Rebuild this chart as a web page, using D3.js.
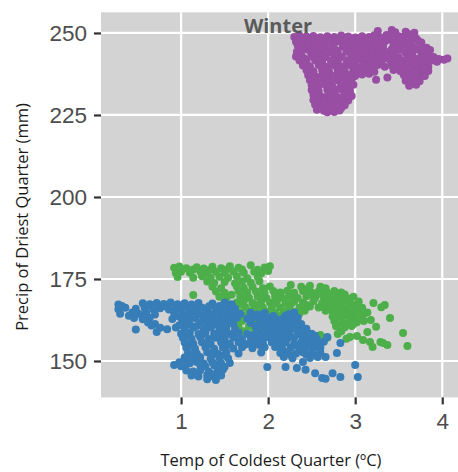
<!DOCTYPE html>
<html><head><meta charset="utf-8">
<script src="https://cdn.jsdelivr.net/npm/d3@7"></script>
<style>body{margin:0;background:#fff}</style></head>
<body>
<svg id="c" width="458" height="472"></svg>
<script>
const title = "Winter";
const xLabel = "Temp of Coldest Quarter (ºC)";
const yLabel = "Precip of Driest Quarter (mm)";
const xTicks = [1, 2, 3, 4];
const yTicks = [150, 175, 200, 225, 250];
const seriesColors = ["#377EB8", "#4DAF4A", "#984EA3"];

const purplePoints = [
[3.26,250.6],[3.42,250.9],[3.46,250.2],[3.58,250.4],[3.68,250.1],
[2.30,248.8],[2.36,249.2],[2.44,248.9],[2.52,249.1],[2.60,248.7],[2.68,249.0],[2.76,248.8],[2.84,249.2],[2.92,248.9],[3.00,248.6],[3.08,249.0],[3.16,248.8],[3.22,249.3],[3.36,249.4],[3.50,249.0],[3.62,249.6],
[2.32,247.3],[2.40,247.8],[2.50,247.4],[2.56,247.6],[2.64,247.2],[2.72,247.7],[2.80,247.4],[2.88,247.6],[2.96,247.3],[3.04,247.8],[3.12,247.5],[3.20,247.2],[3.28,247.7],[3.34,247.4],[3.40,247.9],[3.48,247.5],[3.56,247.8],[3.64,247.4],[3.72,247.7],[3.76,247.1],
[2.34,246.2],[2.42,245.8],[2.58,246.1],[2.66,245.7],[2.74,246.3],[2.86,245.9],[2.94,246.2],[3.02,245.8],[3.10,246.1],[3.18,245.7],[3.26,246.3],[3.32,245.9],[3.44,246.2],[3.52,245.8],[3.60,246.1],[3.68,245.6],[3.76,246.0],[3.82,245.5],
[2.33,244.3],[2.40,244.8],[2.48,244.4],[2.62,244.7],[2.70,244.2],[2.80,244.6],[2.90,244.3],[3.00,244.8],[3.08,244.4],[3.16,244.7],[3.24,244.3],[3.30,244.6],[3.38,244.2],[3.46,244.7],[3.52,244.9],[3.66,244.4],[3.74,244.7],[3.82,244.3],[3.86,244.8],
[2.32,242.8],[2.38,243.3],[2.50,242.9],[2.58,243.2],[2.66,242.7],[2.76,243.1],[2.84,242.8],[2.96,243.2],[3.04,242.9],[3.12,243.3],[3.20,242.7],[3.28,243.1],[3.36,242.8],[3.44,243.2],[3.50,242.6],[3.66,243.0],[3.76,242.8],[3.84,243.2],[3.90,242.7],
[3.96,242.1],[4.02,241.8],[4.06,242.2],
[2.36,241.6],[2.44,241.3],[2.54,241.7],[2.62,241.2],[2.72,241.6],[2.80,241.3],[2.90,241.7],[2.98,241.4],[3.06,241.8],[3.14,241.3],[3.22,241.6],[3.30,241.2],[3.40,241.7],[3.48,241.3],[3.56,241.6],[3.62,241.2],[3.70,241.7],[3.80,241.3],[3.88,241.6],
[2.40,240.1],[2.48,239.8],[2.58,240.2],[2.68,239.7],[2.76,240.1],[2.86,239.8],[2.94,240.2],[3.02,239.7],[3.10,240.1],[3.18,239.6],[3.26,240.2],[3.34,239.7],[3.42,240.1],[3.52,239.8],[3.60,240.2],[3.66,239.6],[3.74,240.0],[3.84,239.7],
[2.44,238.6],[2.52,238.3],[2.62,238.7],[2.70,238.2],[2.80,238.6],[2.88,238.3],[2.98,238.7],[3.06,238.4],[3.14,238.6],[3.22,238.2],[3.44,238.7],[3.52,238.3],[3.60,238.6],[3.68,238.2],[3.76,238.6],[3.84,238.4],
[2.46,237.1],[2.54,236.8],[2.62,237.2],[2.70,236.7],[2.78,237.1],[2.86,236.8],[2.94,237.2],[3.00,236.9],[3.08,237.3],[3.16,237.6],[3.56,237.1],[3.64,236.8],[3.72,237.2],[3.80,236.9],
[3.24,235.7],[3.37,236.4],
[2.48,235.6],[2.56,235.3],[2.64,235.7],[2.72,235.2],[2.80,235.6],[2.88,235.3],[2.96,235.7],[3.58,235.4],[3.66,235.7],[3.74,235.3],
[2.50,234.1],[2.58,233.8],[2.66,234.2],[2.74,233.7],[2.84,234.1],[2.92,233.8],[2.98,234.2],[3.62,233.9],[3.70,234.2],
[2.50,232.6],[2.58,232.3],[2.68,232.7],[2.76,232.2],[2.86,232.6],[2.94,232.3],
[2.52,231.1],[2.60,230.8],[2.70,231.2],[2.78,230.7],[2.88,231.1],[2.96,230.8],
[2.52,229.6],[2.60,229.3],[2.68,229.7],[2.76,229.2],[2.84,229.6],[2.92,229.4],
[2.54,228.1],[2.62,227.8],[2.70,228.2],[2.80,227.7],[2.88,228.0],
[2.56,226.6],[2.64,226.3],[2.72,226.7],[2.82,226.4],
[2.68,225.8],[2.76,225.9],
[3.44,249.6],[3.56,248.9],[3.30,248.6],[3.70,248.3],[3.58,244.0],[3.46,240.9],[3.78,240.7],[3.94,241.2],[3.70,235.1],[3.06,239.0],
[2.46,246.6],[2.52,245.4],[2.56,243.9],[2.94,235.0],[2.66,230.4],[2.82,233.0],[2.74,227.0],
[2.40,248.2],[2.56,248.3],[2.72,248.1],[2.88,248.2],[3.04,248.3],[3.20,248.1],[3.52,248.2],[3.66,248.4],
[2.38,245.1],[2.54,245.3],[2.76,245.2],[2.98,245.1],[3.14,245.3],[3.28,245.2],[3.42,245.0],[3.62,245.3],[3.78,245.1],
[2.42,242.2],[2.62,242.3],[2.80,242.1],[3.00,242.3],[3.16,242.2],[3.32,242.1],[3.46,242.3],[3.60,242.4],[3.72,242.1],[3.86,242.3],
[2.46,239.2],[2.64,239.3],[2.82,239.1],[2.98,239.3],[3.14,239.2],[3.48,239.1],[3.64,239.3],[3.80,239.2],
[2.52,236.2],[2.68,236.3],[2.84,236.1],[2.92,236.3],[3.62,236.2],[3.70,236.4],
[2.54,233.2],[2.72,233.3],[2.90,233.1],
[2.56,230.2],[2.72,230.1],[2.82,230.3],
[2.60,227.2],[2.76,227.3],[2.84,227.1]
];

const greenPoints = [
[0.92,178.4],[0.98,178.8],[1.06,178.3],[1.18,178.6],[1.26,178.2],[1.36,178.7],[1.46,178.3],[1.56,178.9],[1.66,178.4],[1.80,179.2],[1.96,178.5],[2.02,178.9],
[0.94,176.8],[1.00,177.2],[1.10,176.9],[1.22,177.3],[1.30,176.7],[1.40,177.1],[1.50,176.8],[1.60,177.3],[1.72,176.9],[1.84,177.2],[1.92,176.7],[2.00,177.4],
[0.96,175.6],[1.14,175.4],[1.24,175.8],[1.34,175.3],[1.44,175.7],[1.54,175.4],[1.64,175.8],[1.76,175.2],[1.88,175.6],
[1.30,174.2],[1.38,173.8],[1.50,174.1],[1.62,173.7],[1.70,174.2],[1.80,173.9],[1.90,174.3],
[1.36,172.6],[1.46,172.2],[1.64,172.7],[1.72,172.3],[1.82,172.6],[1.94,172.2],[2.02,172.7],[2.26,173.2],[2.38,172.6],[2.48,172.9],[2.60,172.6],[2.66,172.2],
[1.40,171.2],[1.50,170.8],[1.66,171.3],[1.76,170.9],[1.86,171.2],[1.96,170.8],[2.06,171.3],[2.14,170.9],[2.22,171.4],[2.30,170.8],[2.40,171.3],[2.50,170.9],[2.58,171.2],[2.68,170.8],[2.76,171.3],[2.84,170.9],
[1.14,170.1],
[1.44,169.6],[1.52,169.2],[1.68,169.7],[1.78,169.3],[1.88,169.6],[1.98,169.2],[2.08,169.7],[2.16,169.3],[2.24,169.6],[2.34,169.2],[2.44,169.7],[2.54,169.3],[2.64,169.6],[2.72,169.2],[2.80,169.7],[2.90,169.3],[2.98,169.6],
[1.50,168.1],[1.64,167.8],[1.72,168.2],[1.82,167.7],[1.92,168.1],[2.02,167.8],[2.10,168.2],[2.20,167.7],[2.30,168.1],[2.40,167.8],[2.52,168.2],[2.62,167.7],[2.70,168.1],[2.78,167.8],[2.86,168.2],[2.94,167.7],[3.04,168.1],[3.21,167.7],[3.34,167.1],
[1.62,166.6],[1.74,166.3],[1.84,166.7],[1.94,166.2],[2.04,166.6],[2.14,166.3],[2.24,166.7],[2.36,166.2],[2.48,166.6],[2.58,166.3],[2.68,166.7],[2.76,166.2],[2.84,166.6],[2.92,166.3],[3.00,166.7],[3.08,166.2],[3.30,166.4],
[1.58,165.1],[1.68,164.8],[1.78,165.2],[1.88,164.7],[1.98,165.1],[2.08,164.8],[2.18,165.2],[2.30,164.9],[2.42,165.3],[2.74,165.1],[2.82,164.8],[2.90,165.2],[2.98,164.7],[3.06,165.1],[3.14,164.8],
[1.52,163.6],[1.62,163.3],[1.72,163.7],[1.82,163.2],[1.92,163.6],[2.02,163.3],[2.12,163.7],[2.22,163.4],[2.74,163.6],[2.84,163.3],[2.92,163.7],[3.00,163.2],[3.08,163.6],[3.40,163.1],
[1.46,162.1],[1.58,161.8],[1.70,162.2],[1.80,161.7],[1.90,162.1],[2.00,161.8],[2.76,162.2],[2.86,161.7],[2.94,162.1],[3.02,161.8],[3.10,162.2],[3.18,162.5],
[1.50,160.6],[1.66,160.3],[1.78,160.7],[1.92,160.2],[2.78,160.6],[2.88,160.3],[2.96,160.7],[3.24,160.4],
[1.72,159.1],[1.84,158.8],[1.96,159.2],[2.08,158.9],[2.84,159.1],[3.14,158.8],
[2.60,157.9],[2.80,158.2],[2.94,157.3],[3.02,157.6],[3.55,158.5],
[2.10,157.3],[2.68,157.1],[2.90,156.8],[3.09,156.4],
[3.17,155.8],[3.29,155.8],[3.37,154.9],[3.20,154.3],[3.32,155.5],
[3.60,154.6],
[2.44,171.9],[2.90,168.9],[2.36,164.5],[2.80,165.6],[2.66,165.3],
[0.96,177.8],[1.14,177.9],[1.32,177.7],[1.52,177.8],[1.70,177.9],[1.88,177.8],
[1.58,170.2],[1.72,170.1],[1.92,170.3],[2.10,170.2],[2.28,170.1],[2.48,170.3],[2.62,170.2],[2.74,170.1],[2.88,170.3],
[1.68,167.2],[1.88,167.1],[2.06,167.3],[2.26,167.2],[2.44,167.1],[2.64,167.3],[2.82,167.2],[2.98,167.1],
[1.64,164.2],[1.84,164.1],[2.04,164.3],[2.78,164.2],[2.96,164.1],[3.10,164.3],
[1.62,161.2],[1.86,161.1],[2.80,161.2],[2.98,161.3]
];

const bluePoints = [
[0.28,167.2],[0.56,167.6],[0.64,167.3],[0.72,167.7],[0.80,167.4],[0.88,167.8],[0.96,167.3],[1.04,167.6],[1.12,167.2],[1.20,167.7],[1.36,167.5],[1.50,167.8],[1.58,167.3],
[0.28,165.8],[0.36,166.2],[0.48,165.9],[0.58,166.3],[0.68,165.8],[0.76,166.1],[0.86,165.7],[0.94,166.2],[1.00,165.9],[1.08,166.3],[1.16,165.8],[1.24,166.2],[1.30,165.7],[1.40,166.1],[1.46,165.8],[1.54,166.2],[1.62,165.9],
[0.30,164.4],[0.44,164.8],[0.52,164.3],[0.60,164.7],[0.70,164.2],[0.92,164.6],[1.02,164.3],[1.10,164.7],[1.20,164.2],[1.28,164.6],[1.36,164.3],[1.44,164.7],[1.52,164.4],[1.60,164.8],[1.68,164.3],[1.80,164.7],[1.88,164.2],[1.96,164.6],[2.24,164.3],[2.30,164.8],
[0.46,163.1],[0.56,162.7],[0.64,163.2],[0.90,162.8],[1.00,163.2],[1.08,162.7],[1.16,163.1],[1.26,162.8],[1.34,163.2],[1.42,162.7],[1.50,163.1],[1.58,162.8],[1.64,163.2],[1.76,162.9],[1.86,163.3],[1.94,162.8],[2.02,163.2],[2.10,162.7],[2.18,163.1],[2.26,162.8],[2.34,163.2],
[0.62,161.7],[0.70,161.3],[1.02,161.6],[1.10,161.2],[1.22,161.7],[1.30,161.3],[1.38,161.6],[1.46,161.2],[1.54,161.7],[1.60,161.3],[1.80,161.6],[1.90,161.2],[1.98,161.7],[2.06,161.3],[2.14,161.6],[2.22,161.2],[2.30,161.7],[2.38,161.3],
[0.48,159.6],[0.76,160.1],[0.84,159.7],[0.94,160.2],[1.04,159.8],[1.14,160.1],[1.26,159.7],[1.34,160.2],[1.44,159.8],[1.52,160.1],[1.62,159.7],[1.86,160.2],[1.96,159.8],[2.04,160.1],[2.12,159.7],[2.20,160.2],[2.28,159.8],[2.36,160.3],[2.44,159.8],
[0.72,158.8],[1.00,158.3],[1.10,158.7],[1.20,158.2],[1.28,158.6],[1.38,158.3],[1.48,158.7],[1.56,158.2],[1.66,158.6],[1.76,158.3],[1.92,158.7],[2.00,158.2],[2.08,158.6],[2.16,158.3],[2.24,158.7],[2.34,158.2],[2.42,158.6],[2.50,158.3],
[1.02,157.1],[1.12,156.8],[1.22,157.2],[1.32,156.7],[1.40,157.1],[1.50,156.8],[1.60,157.2],[1.70,156.7],[1.80,157.1],[1.90,156.8],[1.98,157.2],[2.06,156.7],[2.14,157.1],[2.22,156.8],[2.30,157.2],[2.40,156.7],[2.48,157.1],[2.56,156.6],[2.68,157.3],
[1.04,155.6],[1.14,155.3],[1.24,155.7],[1.34,155.2],[1.46,155.6],[1.56,155.3],[1.66,155.7],[1.76,155.2],[1.84,155.6],[1.94,155.3],[2.04,155.7],[2.12,155.2],[2.20,155.6],[2.30,155.3],[2.38,155.7],[2.46,155.2],[2.54,155.6],[2.64,155.9],[2.83,155.5],
[1.06,154.1],[1.16,153.8],[1.28,154.2],[1.38,153.7],[1.48,154.1],[1.60,153.8],[1.70,154.2],[1.82,153.9],[1.96,154.2],[2.08,154.3],[2.16,153.8],[2.26,154.2],[2.36,153.7],[2.44,154.1],[2.52,153.8],[2.60,154.0],
[1.08,152.6],[1.18,152.3],[1.30,152.7],[1.42,152.2],[1.52,152.6],[1.66,152.3],[1.92,152.6],[2.14,152.4],[2.22,152.8],[2.32,152.3],[2.40,152.7],[2.50,152.2],[2.60,152.6],[2.79,152.4],
[1.04,151.1],[1.12,150.8],[1.22,151.2],[1.34,150.7],[1.44,151.1],[1.54,150.8],[2.18,151.2],[2.28,150.8],[2.48,150.9],[2.57,151.2],[2.66,151.2],
[0.98,149.6],[1.10,149.3],[1.18,149.7],[1.26,149.2],[1.36,149.6],[1.46,149.3],[1.56,149.4],[2.40,149.7],
[0.92,148.8],[1.00,148.4],[1.28,148.3],[1.38,148.7],[1.50,148.2],[1.99,148.2],[2.20,148.2],[2.33,147.9],[3.00,148.8],
[1.06,147.1],[1.14,146.8],[1.22,147.2],[1.32,146.7],[1.42,147.1],[1.48,147.3],[2.43,147.3],[2.54,146.3],[2.74,146.3],
[1.12,145.6],[1.20,145.3],[1.30,145.7],[1.38,145.2],[1.46,145.6],[2.62,144.8],[2.83,145.1],[3.03,145.1],
[1.30,144.4],[1.40,144.2],[2.66,144.6],
[0.32,166.8],[0.62,166.9],[0.82,166.7],[1.02,166.8],[1.18,166.9],[1.32,166.7],[1.44,166.8],[1.56,166.9],
[0.40,163.8],[0.58,163.9],[0.96,163.7],[1.14,163.8],[1.32,163.9],[1.48,163.7],[1.62,163.8],[1.82,163.9],[2.06,163.7],[2.20,163.8],
[0.66,160.8],[0.98,160.9],[1.18,160.7],[1.36,160.8],[1.50,160.9],[1.86,160.7],[2.02,160.8],[2.18,160.9],[2.34,160.7],
[1.06,157.8],[1.24,157.9],[1.44,157.7],[1.62,157.8],[1.84,157.9],[2.04,157.7],[2.20,157.8],[2.38,157.9],[2.54,157.7],
[1.10,154.8],[1.30,154.9],[1.52,154.7],[1.72,154.8],[1.90,154.9],[2.10,154.7],[2.30,154.8],[2.48,154.9],[2.58,154.7],
[1.14,151.8],[1.36,151.9],[1.48,151.7],[2.26,151.8],[2.44,151.9],[2.56,151.7],
[1.04,148.9],[1.22,148.8],[1.42,149.0],
[1.18,146.0],[1.34,146.1]
];

const W = 458, H = 472;
const svg = d3.select("#c");
const x = d3.scaleLinear().domain([0.08, 4.25]).range([101, 464]);
const y = d3.scaleLinear().domain([138.9, 256.3]).range([397.4, 12.3]);
const [px0, px1] = x.range();
const [py1, py0] = y.range();

svg.append("rect").attr("x", px0).attr("y", py0).attr("width", px1 - px0).attr("height", py1 - py0).attr("fill", "#d3d3d3");

const grid = svg.append("g").attr("stroke", "#ffffff").attr("stroke-width", 2.2);
grid.selectAll("line.v").data(xTicks).join("line").attr("class", "v")
  .attr("x1", d => x(d)).attr("x2", d => x(d)).attr("y1", py0).attr("y2", py1);
grid.selectAll("line.h").data(yTicks).join("line").attr("class", "h")
  .attr("y1", d => y(d)).attr("y2", d => y(d)).attr("x1", px0).attr("x2", px1);

const series = [
  {pts: purplePoints, color: seriesColors[2]},
  {pts: greenPoints, color: seriesColors[1]},
  {pts: bluePoints, color: seriesColors[0]}
];
series.forEach(s => {
  svg.append("g").selectAll("circle").data(s.pts).join("circle")
    .attr("cx", d => x(d[0])).attr("cy", d => y(d[1])).attr("r", 4.0).attr("fill", s.color);
});

svg.append("text").attr("x", 278).attr("y", 33).attr("text-anchor", "middle")
  .attr("font-family", "'Open Sans', sans-serif").attr("font-weight", "bold").attr("font-size", 20)
  .attr("fill", "#5a5a5a").text(title);

const yAxis = svg.append("g").attr("transform", `translate(${px0},0)`)
  .call(d3.axisLeft(y).tickValues(yTicks).tickSize(7).tickPadding(7).tickFormat(d3.format("d")));
const xAxis = svg.append("g").attr("transform", `translate(0,${py1})`)
  .call(d3.axisBottom(x).tickValues(xTicks).tickSize(7).tickPadding(9).tickFormat(d3.format("d")));
[yAxis, xAxis].forEach(a => {
  a.select(".domain").remove();
  a.selectAll(".tick line").attr("stroke", "#333333").attr("stroke-width", 2.2);
  a.selectAll(".tick text").attr("font-family", "'Liberation Sans', Arial, sans-serif")
    .attr("font-size", 22.5).attr("fill", "#4d4d4d");
});

svg.append("text").attr("x", 271).attr("y", 466).attr("text-anchor", "middle")
  .attr("font-family", "'Open Sans', sans-serif").attr("font-size", 16.5).attr("fill", "#1a1a1a").text(xLabel);
svg.append("text").attr("transform", "translate(28,217) rotate(-90)").attr("text-anchor", "middle")
  .attr("font-family", "'Open Sans', sans-serif").attr("font-size", 16.5).attr("fill", "#1a1a1a").text(yLabel);
</script>
</body></html>
